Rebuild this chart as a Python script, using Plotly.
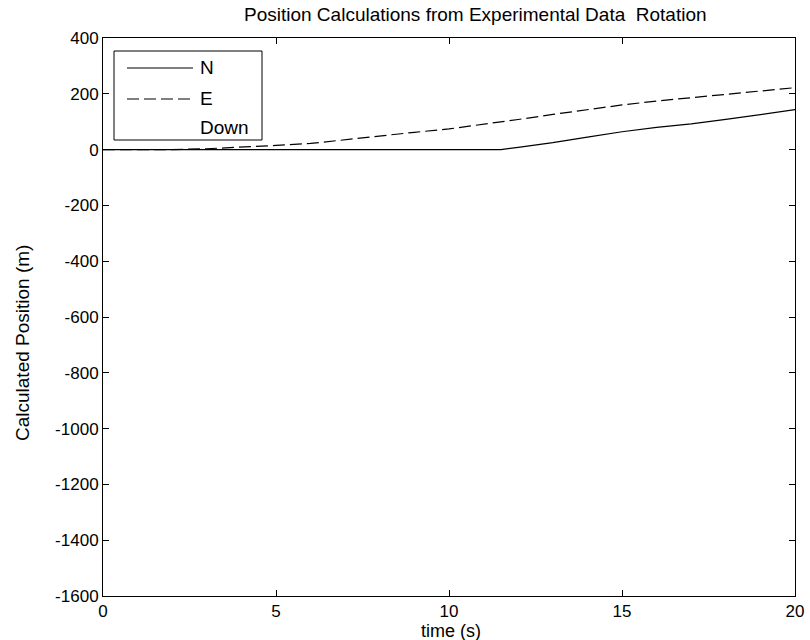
import plotly.graph_objects as go

t = [0, 1, 2, 3, 4, 5, 6, 7, 8, 9, 10, 11, 11.5, 12, 13, 14, 15, 16, 17, 18, 19, 20]
north = [0, 0, 0, 0, 0, 0, -2, -2, 0, 0, 0, 0, 0, 8, 25, 45, 64, 80, 92, 108, 125, 143]
east = [0, 0, 0, 3, 8, 15, 22, 36, 50, 62, 74, 90, 98, 108, 126, 144, 160, 174, 186, 197, 209, 222]
down = [0, 0, 0, 0, 0, 0, 0, 0, 0, 0, 0, 0, 0, 0, 0, 0, 0, 0, 0, 0, 0, 0]

x_ticks = [0, 5, 10, 15, 20]
y_ticks = [400, 200, 0, -200, -400, -600, -800, -1000, -1200, -1400, -1600]
series_names = ["N", "E", "Down"]

FAM = "Liberation Sans, Arial, sans-serif"
tick_font = dict(family=FAM, color="black", size=17)
label_font = dict(family=FAM, color="black", size=19)

# plot area in pixels
L, R, T, B = 103, 795, 38, 596
W, H = 810, 640


def px_x(p):
    return (p - L) / (R - L)


def px_y(p):
    return (B - p) / (B - T)


fig = go.Figure()
fig.add_trace(go.Scatter(x=t, y=north, name=series_names[0], mode="lines",
                         line=dict(color="black", width=1.2), showlegend=False))
fig.add_trace(go.Scatter(x=t, y=east, name=series_names[1], mode="lines",
                         line=dict(color="black", width=1.2, dash="12px,5px"), showlegend=False))
fig.add_trace(go.Scatter(x=t, y=down, name=series_names[2], mode="lines",
                         line=dict(color="rgba(0,0,0,0)", width=1), showlegend=False))

axis_common = dict(showgrid=False, zeroline=False, showline=True, linecolor="black",
                   linewidth=1, mirror="ticks", ticks="inside", ticklen=6,
                   tickcolor="black", tickfont=tick_font)

# legend drawn as shapes + annotations
shapes = [
    dict(type="rect", xref="paper", yref="paper",
         x0=px_x(114), x1=px_x(262), y0=px_y(140), y1=px_y(51),
         line=dict(color="black", width=1), fillcolor="white", layer="above"),
    dict(type="line", xref="paper", yref="paper",
         x0=px_x(127), x1=px_x(193), y0=px_y(68), y1=px_y(68),
         line=dict(color="black", width=1.2), layer="above"),
    dict(type="line", xref="paper", yref="paper",
         x0=px_x(127), x1=px_x(193), y0=px_y(99), y1=px_y(99),
         line=dict(color="black", width=1.2, dash="12px,5px"), layer="above"),
]
annotations = []
for name, yp in zip(series_names, [68, 99, 127]):
    annotations.append(dict(text=name, xref="paper", yref="paper", x=px_x(198), y=px_y(yp),
                            xanchor="left", yanchor="middle", showarrow=False, font=label_font))

annotations.append(dict(text="time (s)", xref="paper", yref="paper", x=px_x(451), y=px_y(631),
                        xanchor="center", yanchor="middle", showarrow=False,
                        font=dict(family=FAM, color="black", size=18)))
annotations.append(dict(text="Calculated Position (m)", xref="paper", yref="paper",
                        x=px_x(22), y=px_y(343), xanchor="center", yanchor="middle",
                        textangle=-90, showarrow=False, font=label_font))
annotations.append(dict(text="Position Calculations from Experimental Data  Rotation",
                        xref="paper", yref="paper", x=px_x(475), y=px_y(14),
                        xanchor="center", yanchor="middle", showarrow=False,
                        font=dict(family=FAM, color="black", size=19)))

fig.update_layout(
    width=W, height=H,
    margin=dict(l=L, r=W - R, t=T, b=H - B, autoexpand=False),
    paper_bgcolor="white", plot_bgcolor="white",
    font=tick_font,
    xaxis=dict(range=[0, 20], tickvals=x_ticks, ticktext=[str(v) for v in x_ticks], **axis_common),
    yaxis=dict(range=[-1600, 400], tickvals=y_ticks, ticktext=[str(v) for v in y_ticks], **axis_common),
    shapes=shapes,
    annotations=annotations,
    showlegend=False,
)

fig.write_html("out.html")
